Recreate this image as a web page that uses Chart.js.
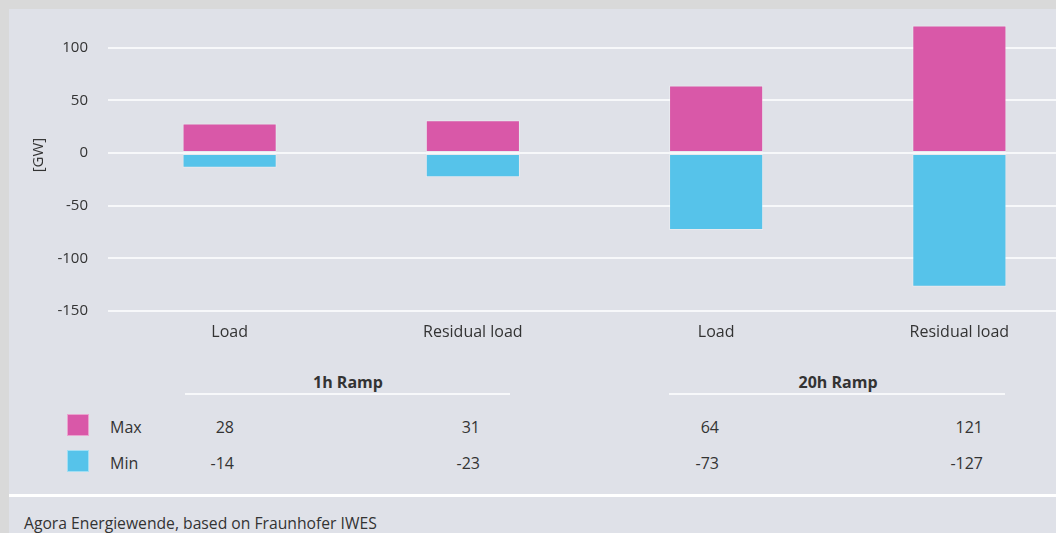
<!DOCTYPE html>
<html>
<head>
<meta charset="utf-8">
<script src="https://cdn.jsdelivr.net/npm/chart.js@4"></script>
<style>
  html, body { margin: 0; padding: 0; }
  body {
    width: 1056px; height: 533px; overflow: hidden; position: relative;
    background: #d9d9d9; font-family: 'Open Sans', sans-serif; color: #333;
  }
  #panel { position: absolute; left: 9px; top: 9px; right: 0; height: 485px; background: #dfe1e8; }
  #sep { position: absolute; left: 9px; top: 494px; right: 0; height: 3px; background: #fff; }
  #foot { position: absolute; left: 9px; top: 497px; right: 0; bottom: 0; background: #dfe1e8; }
  #wrap { position: absolute; left: 0; top: 0; width: 1082px; height: 351px; }
  .abs { position: absolute; white-space: nowrap; }
  .head { font-weight: 700; font-size: 16px; line-height: 20px; text-align: center; width: 200px; }
  .rule { height: 2px; background: #f7f8fa; }
  .swatch { width: 22px; height: 22px; box-sizing: border-box; border: 1px solid rgba(255,255,255,0.45); }
  .lbl { font-size: 16px; line-height: 20px; }
  .val { font-size: 16px; line-height: 20px; width: 80px; text-align: right; }
  #unit { left: 7px; top: 145px; width: 60px; text-align: center; font-size: 15px; line-height: 20px; transform: rotate(-90deg); }
  #source { left: 24px; top: 513px; font-size: 15.7px; line-height: 20px; }
</style>
</head>
<body>
<div id="panel"></div>
<div id="sep"></div>
<div id="foot"></div>
<div id="wrap"><canvas id="chart" width="1082" height="351"></canvas></div>
<div id="unit" class="abs">[GW]</div>
<div id="table"></div>
<div id="source" class="abs">Agora Energiewende, based on Fraunhofer IWES</div>
<script>
const categories = ['Load', 'Residual load', 'Load', 'Residual load'];
const groups = ['1h Ramp', '20h Ramp'];
const seriesNames = ['Max', 'Min'];
const maxValues = [28, 31, 64, 121];
const minValues = [-14, -23, -73, -127];
const yTicks = [-150, -100, -50, 0, 50, 100];

const pink = '#d958a8';
const blue = '#56c3ea';
const textColor = '#333333';

// white zero line drawn on top of the bars
const zeroLine = {
  id: 'zeroLine',
  afterDatasetsDraw(chart) {
    const { ctx, chartArea, scales } = chart;
    const y = scales.y.getPixelForValue(0);
    ctx.save();
    ctx.strokeStyle = '#f7f8fa';
    ctx.lineWidth = 2;
    ctx.beginPath();
    ctx.moveTo(chartArea.left, y);
    ctx.lineTo(chartArea.right, y);
    ctx.stroke();
    ctx.restore();
  },
};

const chart = new Chart(document.getElementById('chart'), {
  type: 'bar',
  data: {
    labels: categories,
    datasets: [
      { label: seriesNames[0], data: maxValues, backgroundColor: pink },
      { label: seriesNames[1], data: minValues, backgroundColor: blue },
    ],
  },
  options: {
    responsive: false,
    animation: false,
    devicePixelRatio: 1,
    layout: { padding: { top: 16, right: 1, left: 0, bottom: 0 } },
    datasets: {
      bar: {
        barPercentage: 0.387,
        categoryPercentage: 1,
        borderWidth: 1,
        borderColor: 'rgba(255,255,255,0.3)',
        borderSkipped: false,
      },
    },
    plugins: { legend: { display: false }, tooltip: { enabled: false } },
    scales: {
      x: {
        stacked: true,
        grid: { display: false, drawTicks: false },
        border: { display: false },
        ticks: { color: textColor, font: { family: 'Open Sans', size: 16 }, padding: 12, maxRotation: 0 },
        afterFit(scale) { scale.height = 40; },
      },
      y: {
        stacked: true,
        min: -150,
        max: 130,
        ticks: { stepSize: 50, color: textColor, font: { family: 'Open Sans', size: 15 }, padding: 20 },
        afterBuildTicks(scale) {
          scale.ticks = yTicks.map((v) => ({ value: v }));
        },
        grid: { color: '#f7f8fa', lineWidth: 2, drawTicks: false },
        border: { display: false },
        afterFit(scale) {
          scale.width = 108;
          scale.paddingTop = 0;
          scale.paddingBottom = 0;
        },
      },
    },
  },
  plugins: [zeroLine],
});

// table under the chart
const table = document.getElementById('table');
function add(cls, text, style) {
  const d = document.createElement('div');
  d.className = 'abs ' + cls;
  if (text !== null) d.textContent = text;
  Object.assign(d.style, style);
  table.appendChild(d);
  return d;
}

const groupCenters = [348, 838];
const groupRules = [[185, 510], [669, 1005]];
groups.forEach((g, i) => {
  add('head', g, { left: groupCenters[i] - 100 + 'px', top: '372px' });
  add('rule', null, { left: groupRules[i][0] + 'px', width: groupRules[i][1] - groupRules[i][0] + 'px', top: '393px' });
});

const rowTops = [417, 453];
const swatchColors = [pink, blue];
seriesNames.forEach((name, r) => {
  add('swatch', null, { left: '67px', top: rowTops[r] - 3 + 'px', background: swatchColors[r] });
  add('lbl', name, { left: '110px', top: rowTops[r] + 'px' });
});

const valueRights = [234, 480, 719, 983];
[maxValues, minValues].forEach((vals, r) => {
  vals.forEach((v, c) => {
    add('val', String(v), { left: valueRights[c] - 80 + 'px', top: rowTops[r] + 'px' });
  });
});
</script>
</body>
</html>
